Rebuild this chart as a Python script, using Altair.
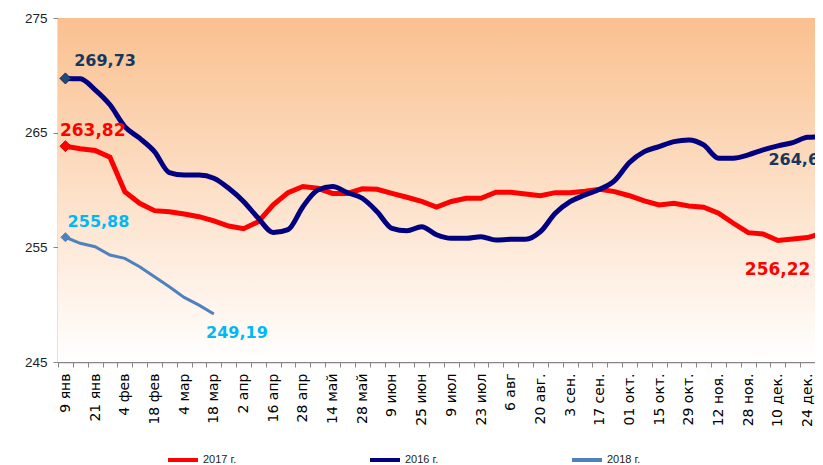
import altair as alt
import pandas as pd

# x-axis category labels (every second week)
labels = ["9 янв", "21 янв", "4 фев", "18 фев", "4 мар", "18 мар", "2 апр", "16 апр",
          "28 апр", "14 май", "28 май", "9 июн", "25 июн", "9 июл", "23 июл", "6 авг",
          "20 авг.", "3 сен.", "17 сен.", "01 окт.", "15 окт.", "29 окт.", "12 ноя.",
          "28 ноя.", "10 дек.", "24 дек."]

red_2017 = [263.82, 263.6, 263.44, 262.86, 259.86, 258.84, 258.2, 258.11, 257.9, 257.67,
            257.3, 256.86, 256.62, 257.24, 258.7, 259.77, 260.3, 260.15, 259.7, 259.7,
            260.1, 260.06, 259.7, 259.37, 259.0, 258.52, 259.0, 259.28, 259.28, 259.8,
            259.8, 259.65, 259.5, 259.77, 259.77, 259.9, 260.06, 259.86, 259.5, 259.05,
            258.7, 258.84, 258.6, 258.5, 257.97, 257.1, 256.28, 256.16, 255.6, 255.72,
            255.85, 256.22]

navy_2016 = [269.73, 269.7, 268.74, 267.43, 265.53, 264.52, 263.35, 261.52, 261.31, 261.31,
             261.03, 260.15, 259.0, 257.53, 256.3, 256.55, 258.55, 260.0, 260.3, 259.77,
             259.28, 258.11, 256.66, 256.45, 256.8, 256.1, 255.79, 255.79, 255.93, 255.64,
             255.7, 255.7, 256.36, 257.97, 258.98, 259.57, 260.06, 260.82, 262.4, 263.35,
             263.79, 264.22, 264.37, 263.93, 262.77, 262.77, 263.06, 263.5, 263.85, 264.13,
             264.6, 264.64]

blue_2018 = [255.88, 255.35, 255.05, 254.33, 254.04, 253.31, 252.43, 251.56, 250.63, 249.96,
             249.19]

series_names = ["2017 г.", "2016 г.", "2018 г."]
series_colors = ["#FF0000", "#000080", "#4F81BD"]
y_ticks = [245, 255, 265, 275]

rows = []
for name, vals in zip(series_names, [red_2017, navy_2016, blue_2018]):
    for i, v in enumerate(vals):
        rows.append({"i": i, "v": v, "s": name})
df = pd.DataFrame(rows)

n_bands = 2 * len(labels) - 1
xdom = [-0.5, n_bands - 0.5]
ydom = [y_ticks[0], y_ticks[-1]]
tick_vals = [k - 0.5 for k in range(n_bands + 1)]
arr = "[" + ",".join("'" + l + "'" for l in labels) + "]"
label_expr = ("(round(datum.value+0.5)%2==0) ? " + arr +
              "[round(datum.value+0.5)/2] : ''")

W = 757
H = 344
band = W / n_bands

x_scale = alt.Scale(domain=xdom, nice=False, zero=False)
y_scale = alt.Scale(domain=ydom, nice=False, zero=False)

x_axis = alt.Axis(values=tick_vals, labelExpr=label_expr, labelAngle=270,
                  labelOffset=band / 2, labelOverlap=False, labelFlush=False,
                  labelFont="DejaVu Sans", labelFontSize=14, labelColor="#000000",
                  labelPadding=6, tickSize=5, tickColor="#868686",
                  domainColor="#868686", domainWidth=1.5, grid=False)
y_axis = alt.Axis(values=y_ticks, format="d", labelFont="Liberation Sans",
                  labelFontSize=13.5, labelColor="#222222", labelPadding=6,
                  tickSize=5, tickColor="#868686", domainColor="#868686",
                  domainWidth=1.5, grid=True, gridColor="#C8C8C8",
                  gridDash=[5, 3], gridWidth=1)

x_enc = alt.X("i:Q", title=None, scale=x_scale, axis=x_axis)
y_enc = alt.Y("v:Q", title=None, scale=y_scale, axis=y_axis)

color_enc = alt.Color("s:N",
                      scale=alt.Scale(domain=series_names, range=series_colors),
                      legend=alt.Legend(orient="none", legendX=108, legendY=425,
                                        direction="horizontal", title=None,
                                        symbolType="stroke", symbolSize=900,
                                        symbolStrokeWidth=4, labelFont="Liberation Sans",
                                        labelFontSize=11, labelColor="#222222",
                                        labelOffset=3, columnPadding=125))

# gradient background of the plot area
bg_df = pd.DataFrame([{"x0": xdom[0], "x1": xdom[1], "y0": ydom[0], "y1": ydom[1]}])
background = alt.Chart(bg_df).mark_rect(
    color=alt.LinearGradient(gradient="linear",
                             stops=[alt.GradientStop(color="#FAC08F", offset=0),
                                    alt.GradientStop(color="#FFFFFF", offset=1)],
                             x1=0, x2=0, y1=0, y2=1)
).encode(x=alt.X("x0:Q", title=None, scale=x_scale, axis=x_axis), x2="x1:Q",
         y=alt.Y("y0:Q", title=None, scale=y_scale, axis=y_axis), y2="y1:Q")

base = alt.Chart(df)
line_red = base.transform_filter(alt.datum.s == series_names[0]).mark_line(
    strokeWidth=5, interpolate="linear").encode(x=x_enc, y=y_enc, color=color_enc)
line_navy = base.transform_filter(alt.datum.s == series_names[1]).mark_line(
    strokeWidth=5, interpolate="monotone").encode(x=x_enc, y=y_enc, color=color_enc)
line_blue = base.transform_filter(alt.datum.s == series_names[2]).mark_line(
    strokeWidth=3, interpolate="linear").encode(x=x_enc, y=y_enc, color=color_enc)

first_pts = pd.DataFrame([
    {"i": 0, "v": red_2017[0], "c": "#FF0000", "sc": "#E00000", "sz": 120},
    {"i": 0, "v": navy_2016[0], "c": "#1F497D", "sc": "#0F2A50", "sz": 120},
    {"i": 0, "v": blue_2018[0], "c": "#4F81BD", "sc": "#4F81BD", "sz": 80},
])
diamonds = alt.Chart(first_pts).mark_point(shape="diamond", filled=True, opacity=1,
                                           strokeWidth=1).encode(
    x=x_enc, y=y_enc,
    fill=alt.Fill("c:N", scale=None),
    stroke=alt.Stroke("sc:N", scale=None),
    size=alt.Size("sz:Q", scale=None))


def fmt(v):
    return ("%.2f" % v).replace(".", ",")


def label(i, v, color, size, dx, dy, align="left"):
    d = pd.DataFrame([{"i": i, "v": v, "t": fmt(v)}])
    return alt.Chart(d).mark_text(align=align, baseline="middle", dx=dx, dy=dy,
                                  font="DejaVu Sans", fontWeight="bold",
                                  fontSize=size, color=color).encode(
        x=x_enc, y=y_enc, text="t:N")


last = len(red_2017) - 1
texts = [
    label(0, navy_2016[0], "#17375E", 16, 8.8, -17),
    label(0, red_2017[0], "#FF0000", 17, -5.5, -15.6),
    label(0, blue_2018[0], "#00B8F5", 16, 2.2, -15.5),
    label(len(blue_2018) - 1, blue_2018[-1], "#00B8F5", 16, -7.8, 19),
    label(last, red_2017[-1], "#FF0000", 17, -12, 36.7, align="right"),
    label(last, navy_2016[-1], "#17375E", 16, -54, 23.3),
]

chart = alt.layer(background, line_red, line_navy, line_blue, diamonds, *texts).properties(
    width=W, height=H,
    autosize=alt.AutoSizeParams(type="none"),
    padding={"left": 50, "top": 10, "right": 0, "bottom": 103},
).configure_view(strokeWidth=0)

chart.save("out.html", embed_options={"renderer": "svg", "actions": False})
